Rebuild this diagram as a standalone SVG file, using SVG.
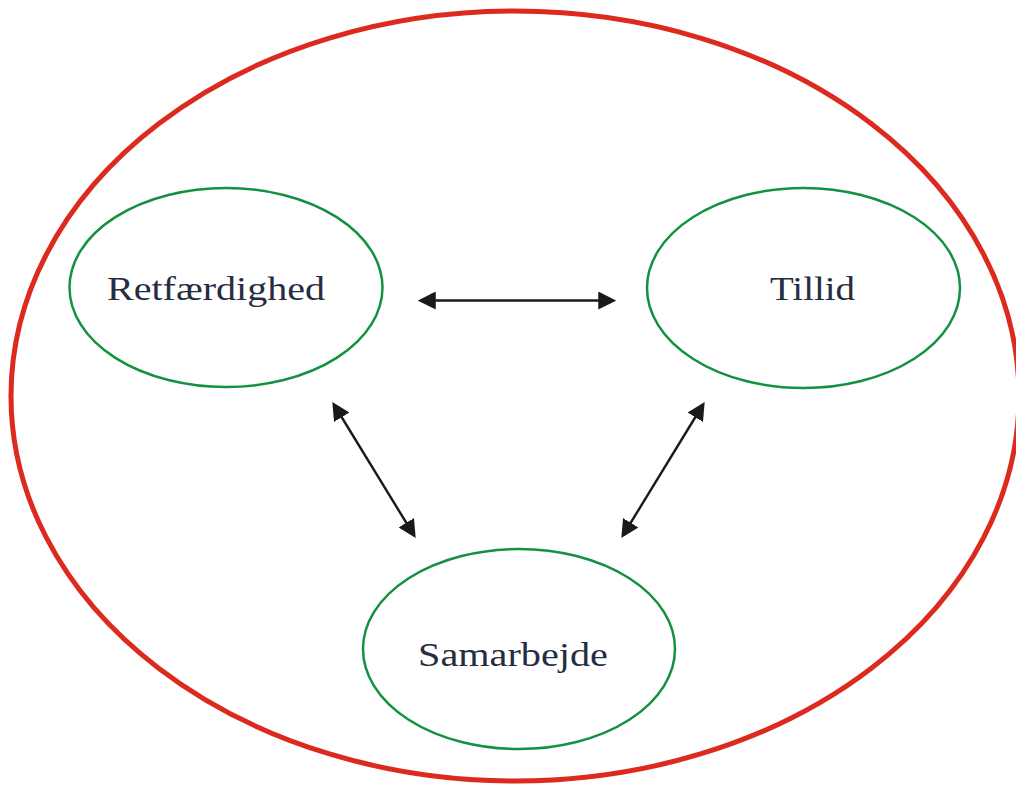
<svg xmlns="http://www.w3.org/2000/svg" width="1016" height="785" viewBox="0 0 1016 785">
<style>
.node{fill:none;stroke:#139141;stroke-width:2.5}
.lbl{font-family:"Liberation Serif","Times New Roman",serif;font-size:34px;fill:#262d42;text-anchor:middle}
.conn{stroke:#1c1a19;stroke-width:2.4;fill:none;marker-start:url(#ah);marker-end:url(#ah)}
</style>
<defs>
<marker id="ah" markerUnits="userSpaceOnUse" markerWidth="18" markerHeight="18" viewBox="0 0 16 16" refX="6" refY="8" orient="auto-start-reverse">
<path d="M0,0 L16,8 L0,16 z" fill="#1c1a19"/>
</marker>
</defs>
<rect width="1016" height="785" fill="#ffffff"/>
<g id="outer">
<ellipse cx="515" cy="396" rx="504" ry="385" fill="none" stroke="#dc2a1f" stroke-width="5"/>
</g>
<g id="retfaerdighed">
<ellipse class="node" cx="226" cy="287.5" rx="156.5" ry="99.5"/>
<text class="lbl" x="216" y="300" textLength="218" lengthAdjust="spacingAndGlyphs">Retfærdighed</text>
</g>
<g id="tillid">
<ellipse class="node" cx="803.5" cy="288" rx="156.5" ry="100"/>
<text class="lbl" x="812.5" y="300" textLength="85" lengthAdjust="spacingAndGlyphs">Tillid</text>
</g>
<g id="samarbejde">
<ellipse class="node" cx="519" cy="649" rx="156" ry="100"/>
<text class="lbl" x="513" y="666" textLength="190" lengthAdjust="spacingAndGlyphs">Samarbejde</text>
</g>
<g id="connectors">
<line class="conn" x1="429" y1="300.5" x2="605" y2="300.5"/>
<line class="conn" x1="338.2" y1="411.5" x2="409.8" y2="528.5"/>
<line class="conn" x1="698.8" y1="411.5" x2="627.2" y2="528.5"/>
</g>
</svg>
